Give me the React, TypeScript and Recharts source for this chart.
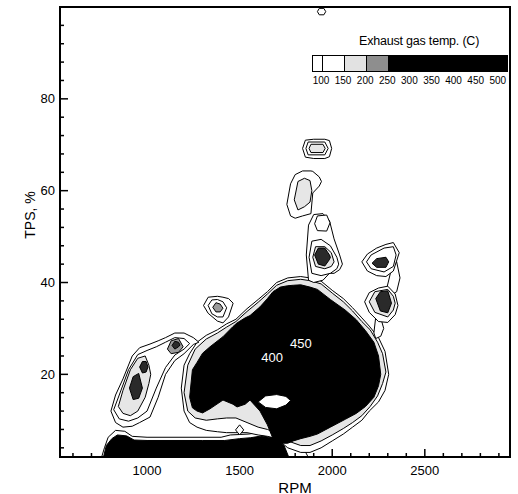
import React from "react";
import { Area, ComposedChart, ReferenceArea, ReferenceDot, XAxis, YAxis } from "recharts";

type Pt = [number, number, number]; // rpm, low TPS, high TPS of one closed contour band

const RPM_TICKS = [600, 700, 800, 900, 1000, 1100, 1200, 1300, 1400, 1500, 1600, 1700, 1800, 1900, 2000, 2100, 2200, 2300, 2400, 2500, 2600, 2700, 2800, 2900];
const RPM_LABELS = [1000, 1500, 2000, 2500];
const TPS_TICKS = [4, 8, 12, 16, 20, 24, 28, 32, 36, 40, 44, 48, 52, 56, 60, 64, 68, 72, 76, 80, 84, 88, 92, 96];
const TPS_LABELS = [20, 40, 60, 80];

const LEGEND_LEVELS = [100, 150, 200, 250, 300, 350, 400, 450, 500];
const LEGEND_FILLS = ["#ffffff", "#e2e2e2", "#8e8e8e", "#000000", "#000000", "#000000", "#000000", "#000000"];

const WHITE = "#ffffff";
const LIGHT = "#e6e6e6";
const GREY = "#9a9a9a";
const DARK = "#2a2a2a";
const BLACK = "#000000";

// bottom strip, low TPS
const floorOuter: Pt[] = [[755, 2, 2], [770, 2, 4], [790, 2, 6.3], [830, 2, 7.8], [880, 2, 7.6], [920, 2, 6.5], [1000, 2, 6.3], [1400, 2, 6.3], [1450, 2, 6.8], [1550, 2, 7], [1620, 2, 7.5], [1700, 2, 7], [1790, 2, 5], [1850, 2, 3.5], [1870, 2, 2]];
const floorBlack: Pt[] = [[765, 2, 2], [780, 2, 4.5], [810, 2, 6], [840, 2, 6.8], [890, 2, 6.6], [930, 2, 5.7], [1000, 2, 5.6], [1300, 2, 5.6], [1420, 2, 5.6], [1500, 2, 6], [1560, 2, 6.2], [1620, 2, 6.6], [1700, 2, 6], [1740, 2, 4.5], [1765, 2, 2]];

// main hot zone
const blobOuter: Pt[] = [[1185, 17, 17], [1200, 12, 22], [1230, 9.5, 24.5], [1270, 8.5, 27], [1320, 7.8, 28.5], [1380, 7.5, 29.7], [1430, 7.3, 31], [1480, 7.3, 32], [1540, 7.3, 34.3], [1600, 6.8, 36.3], [1650, 6.5, 38], [1700, 6, 40], [1760, 4, 41], [1830, 3, 41.3], [1880, 3, 41], [1940, 4, 40.3], [2000, 5.5, 38.3], [2060, 7, 36.5], [2110, 8.5, 34.5], [2160, 10, 32.3], [2200, 12, 30.5], [2250, 14, 28], [2285, 16.5, 25], [2305, 20, 20]];
const blobMid: Pt[] = [[1200, 16, 16], [1220, 12, 22], [1260, 10.5, 25.5], [1320, 10, 27.7], [1380, 10.3, 29], [1430, 10.5, 30.3], [1480, 10.5, 31.5], [1540, 9.5, 33.7], [1600, 8.5, 35.7], [1650, 8, 37.5], [1700, 7.2, 39.4], [1760, 5.5, 40.4], [1830, 4.5, 40.7], [1880, 4.5, 40.4], [1940, 5.5, 39.7], [2000, 6.8, 37.7], [2060, 8.2, 35.8], [2110, 9.5, 33.8], [2160, 11, 31.5], [2205, 13, 29.7], [2245, 15.3, 27], [2272, 18, 24.5], [2290, 20.5, 20.5]];
const blobBlack: Pt[] = [[1230, 15, 15], [1245, 12.7, 21], [1270, 12, 22.6], [1300, 11.6, 24.6], [1340, 12.5, 26], [1410, 14.4, 28.2], [1464, 13.5, 30.4], [1486, 12.9, 31.2], [1530, 13.5, 32.3], [1556, 14.4, 32.8], [1610, 12, 34.7], [1650, 9, 36.5], [1680, 6, 38], [1720, 5, 39], [1760, 5, 39.3], [1790, 5.5, 39.4], [1830, 6, 39.5], [1880, 6.5, 39], [1920, 7, 38.5], [1990, 8.5, 36.3], [2070, 10.2, 34], [2130, 11.5, 31.9], [2180, 13, 29.5], [2225, 15, 27], [2250, 17.5, 24], [2262, 20, 20]];
const pocket: Pt[] = [[1600, 14, 14], [1640, 12.8, 15.3], [1700, 12.5, 15.6], [1750, 13.3, 15.2], [1775, 14.3, 14.3]];
const diamond: Pt[] = [[1478, 7.9, 7.9], [1500, 6.8, 9], [1522, 7.9, 7.9]];

// diagonal chain on the left
const chainOuter: Pt[] = [[805, 12, 12], [830, 9.5, 15.5], [870, 8.5, 19], [920, 8.7, 24], [960, 9.5, 25.8], [1016, 10.7, 26.6], [1060, 15, 27.3], [1100, 20, 28], [1150, 23, 29], [1200, 24.5, 29], [1250, 26.5, 28], [1280, 27, 27]];
const chainMid: Pt[] = [[820, 12.3, 12.3], [850, 10.3, 15.5], [900, 9.8, 21], [950, 10.5, 24.3], [1000, 12, 25.2], [1050, 17, 26], [1100, 21.5, 27], [1150, 24.2, 28], [1200, 25.5, 27.8], [1230, 26.7, 26.7]];
const chainGreyLow: Pt[] = [[845, 13, 13], [870, 11.5, 16.5], [910, 11, 21], [950, 12, 23.5], [990, 15, 24], [1010, 18, 22], [1020, 20, 20]];
const chainDark1: Pt[] = [[905, 17, 17], [925, 14.5, 19.5], [955, 14.8, 20.2], [975, 17, 17]];
const chainDark2: Pt[] = [[960, 21.6, 21.6], [975, 20.3, 22.8], [995, 20.5, 22.8], [1005, 21.6, 21.6]];
const chainGreyUp: Pt[] = [[1110, 25.5, 25.5], [1130, 24.5, 27.3], [1170, 24.8, 27.8], [1195, 26, 26]];
const chainDarkUp: Pt[] = [[1135, 26.3, 26.3], [1150, 25.5, 27.2], [1170, 26, 27], [1178, 26.4, 26.4]];

// small island near 1380 rpm
const isleOuter: Pt[] = [[1305, 35, 35], [1330, 33.3, 36.8], [1380, 31.6, 37], [1410, 31.2, 36.8], [1440, 32.5, 36.5], [1465, 35.5, 35.5]];
const isleMid: Pt[] = [[1330, 35, 35], [1350, 33.2, 36.2], [1380, 32.5, 36.3], [1410, 32.5, 35.8], [1430, 34.5, 34.5]];
const isleDark: Pt[] = [[1355, 34.6, 34.6], [1372, 33.6, 35.6], [1395, 33.6, 35.3], [1410, 34.4, 34.4]];

// island at ~70% TPS, plus the small mark at the top edge
const topOuter: Pt[] = [[1840, 69.2, 69.2], [1855, 67.3, 71], [1900, 67, 71.2], [1960, 67, 71.2], [1985, 67.4, 70.9], [1997, 69.2, 69.2]];
const topMid: Pt[] = [[1858, 69.2, 69.2], [1870, 67.8, 70.6], [1960, 67.8, 70.6], [1978, 69.2, 69.2]];
const topInner: Pt[] = [[1875, 69.2, 69.2], [1885, 68.3, 70.1], [1950, 68.3, 70.1], [1962, 69.2, 69.2]];
const topEdge: Pt[] = [[1920, 99, 99], [1930, 98.3, 99.7], [1955, 98.3, 99.7], [1965, 99, 99]];

// vertical chain above the hot zone
const vOuterUp: Pt[] = [[1755, 57, 57], [1775, 54.5, 61.5], [1800, 54, 63.5], [1840, 54.5, 64.3], [1885, 55, 64.3], [1895, 59.5, 64.2], [1930, 61, 63], [1942, 62, 62]];
const vInnerUp: Pt[] = [[1795, 58, 58], [1815, 55.8, 62], [1850, 56.5, 62.7], [1880, 57.5, 62.2], [1890, 60, 60]];
const vOuterLow: Pt[] = [[1860, 46, 46], [1872, 40.5, 52.5], [1900, 40, 54.8], [1950, 40.5, 55], [1985, 42, 53.5], [2010, 42, 49.5], [2040, 42.8, 46], [2055, 44, 44]];
const vLoop: Pt[] = [[1905, 52.8, 52.8], [1920, 51.3, 54.5], [1970, 51.2, 54.7], [1988, 53, 53]];
const vLobeMid: Pt[] = [[1875, 45.5, 45.5], [1890, 42, 49], [1940, 41.5, 49.4], [1990, 42, 48], [2025, 43, 45.5], [2035, 44, 44]];
const vLobeGrey: Pt[] = [[1895, 45.5, 45.5], [1910, 43.5, 47.8], [1960, 43, 47.8], [1995, 43.5, 46.5], [2010, 44.5, 44.5]];
const vLobeDark: Pt[] = [[1905, 46, 46], [1925, 44, 47.5], [1960, 43.6, 47.5], [1985, 45, 46], [1990, 45.5, 45.5]];

// two islands on the right and the contour that links them to the hot zone
const rLink: Pt[] = [[2225, 29, 29], [2235, 27.8, 32.5], [2262, 28.3, 32.3], [2278, 30, 30]];
const rSide: Pt[] = [[2292, 38.3, 38.3], [2320, 37.3, 43], [2348, 38, 44.5], [2366, 41, 41]];
const rUpOuter: Pt[] = [[2160, 44.5, 44.5], [2190, 42.5, 46.2], [2240, 41.5, 47.5], [2290, 41.3, 48.3], [2330, 42.5, 48.7], [2362, 46.5, 46.5]];
const rUpMid: Pt[] = [[2185, 44.5, 44.5], [2210, 43, 46], [2280, 42.3, 47.5], [2330, 43.5, 47.8], [2345, 46, 46]];
const rUpDark: Pt[] = [[2215, 44.2, 44.2], [2240, 43.3, 45.2], [2290, 43.3, 45.5], [2305, 44.5, 44.5]];
const rLowOuter: Pt[] = [[2175, 35.8, 35.8], [2200, 33.5, 37.8], [2250, 31.5, 38.8], [2300, 31.3, 39.2], [2340, 33, 37.5], [2355, 35, 35]];
const rLowMid: Pt[] = [[2200, 35.8, 35.8], [2230, 33.5, 38], [2300, 32.5, 38.5], [2330, 34, 37], [2340, 35.5, 35.5]];
const rLowDark: Pt[] = [[2235, 36.5, 36.5], [2260, 33.8, 38], [2300, 33.4, 38.2], [2320, 35.5, 35.5]];

const LAYERS: { pts: Pt[]; fill: string }[] = [
  { pts: floorOuter, fill: WHITE },
  { pts: blobOuter, fill: WHITE },
  { pts: blobMid, fill: LIGHT },
  { pts: floorBlack, fill: BLACK },
  { pts: blobBlack, fill: BLACK },
  { pts: pocket, fill: WHITE },
  { pts: diamond, fill: WHITE },
  { pts: chainOuter, fill: WHITE },
  { pts: chainMid, fill: WHITE },
  { pts: chainGreyLow, fill: LIGHT },
  { pts: chainDark1, fill: DARK },
  { pts: chainDark2, fill: DARK },
  { pts: chainGreyUp, fill: GREY },
  { pts: chainDarkUp, fill: DARK },
  { pts: isleOuter, fill: WHITE },
  { pts: isleMid, fill: WHITE },
  { pts: isleDark, fill: GREY },
  { pts: topOuter, fill: WHITE },
  { pts: topMid, fill: WHITE },
  { pts: topInner, fill: LIGHT },
  { pts: topEdge, fill: WHITE },
  { pts: vOuterUp, fill: WHITE },
  { pts: vInnerUp, fill: LIGHT },
  { pts: vOuterLow, fill: WHITE },
  { pts: vLoop, fill: WHITE },
  { pts: vLobeMid, fill: WHITE },
  { pts: vLobeGrey, fill: LIGHT },
  { pts: vLobeDark, fill: DARK },
  { pts: rLink, fill: WHITE },
  { pts: rSide, fill: WHITE },
  { pts: rUpOuter, fill: WHITE },
  { pts: rUpMid, fill: WHITE },
  { pts: rUpDark, fill: DARK },
  { pts: rLowOuter, fill: WHITE },
  { pts: rLowMid, fill: LIGHT },
  { pts: rLowDark, fill: DARK },
];

const FONT = "'Liberation Sans', Arial, sans-serif";

function RpmTick({ x, y, payload }: any) {
  const v = payload.value as number;
  const len = v % 500 === 0 ? 8 : 4;
  return (
    <g>
      <line x1={x} x2={x} y1={y} y2={y - len} stroke="#000" strokeWidth={1.5} />
      {RPM_LABELS.includes(v) && (
        <text x={x} y={y + 18} textAnchor="middle" fontSize={13} fontFamily={FONT} fill="#000">
          {v}
        </text>
      )}
    </g>
  );
}

function TpsTick({ x, y, payload }: any) {
  const v = payload.value as number;
  const len = TPS_LABELS.includes(v) ? 8 : 4;
  return (
    <g>
      <line x1={x} x2={x + len} y1={y} y2={y} stroke="#000" strokeWidth={1.5} />
      {TPS_LABELS.includes(v) && (
        <text x={x - 5} y={y + 4.5} textAnchor="end" fontSize={13} fontFamily={FONT} fill="#000">
          {v}
        </text>
      )}
    </g>
  );
}

export default function App() {
  return (
    <div style={{ position: "absolute", left: 0, top: 0, width: 518, height: 494, background: "#fff", fontFamily: FONT }}>
      <ComposedChart width={518} height={494} margin={{ top: 7, right: 8, bottom: 7, left: 10 }}>
        <XAxis
          type="number"
          dataKey="rpm"
          domain={[530, 2960]}
          allowDataOverflow
          ticks={RPM_TICKS}
          interval={0}
          tickLine={false}
          tickSize={0}
          tickMargin={0}
          height={30}
          axisLine={{ stroke: "#000", strokeWidth: 2 }}
          tick={<RpmTick />}
        />
        <YAxis
          type="number"
          domain={[2, 100]}
          allowDataOverflow
          ticks={TPS_TICKS}
          interval={0}
          tickLine={false}
          tickSize={0}
          tickMargin={0}
          width={50}
          axisLine={{ stroke: "#000", strokeWidth: 2 }}
          tick={<TpsTick />}
        />
        {LAYERS.map((layer, i) => (
          <Area
            key={i}
            data={layer.pts.map(([rpm, lo, hi]) => ({ rpm, band: [lo, hi] }))}
            dataKey="band"
            type="linear"
            fill={layer.fill}
            fillOpacity={1}
            stroke="#000"
            strokeWidth={1}
            dot={false}
            activeDot={false}
            isAnimationActive={false}
          />
        ))}
        <ReferenceDot x={1675} y={23.8} r={0} label={{ value: "400", fill: "#fff", fontSize: 13, fontFamily: FONT }} />
        <ReferenceDot x={1831} y={26.7} r={0} label={{ value: "450", fill: "#fff", fontSize: 13, fontFamily: FONT }} />
        <ReferenceArea x1={530} x2={2960} y1={2} y2={100} fill="none" stroke="#000" strokeWidth={2} />
      </ComposedChart>

      <div style={{ position: "absolute", left: 30, top: 215, transform: "translate(-50%, -50%) rotate(-90deg)", fontSize: 14, whiteSpace: "nowrap" }}>
        TPS, %
      </div>
      <div style={{ position: "absolute", left: 295, top: 487, transform: "translate(-50%, -50%)", fontSize: 15 }}>RPM</div>

      <div style={{ position: "absolute", left: 359, top: 34, fontSize: 12.5, letterSpacing: -0.2, whiteSpace: "nowrap" }}>Exhaust gas temp. (C)</div>
      <div style={{ position: "absolute", left: 312, top: 55, width: 196, height: 17, border: "1.5px solid #000", boxSizing: "border-box", display: "flex", background: "#000" }}>
        <div style={{ width: 9, background: "#fff", borderRight: "1px solid #000" }} />
        {LEGEND_FILLS.map((c, i) => (
          <div key={i} style={{ width: 22, background: c, borderRight: i < 3 ? "1px solid #000" : "none", boxSizing: "border-box" }} />
        ))}
      </div>
      {LEGEND_LEVELS.map((lv, i) => (
        <div key={lv} style={{ position: "absolute", left: 321 + i * 22.1, top: 80, transform: "translate(-50%, -50%)", fontSize: 10 }}>
          {lv}
        </div>
      ))}
    </div>
  );
}
